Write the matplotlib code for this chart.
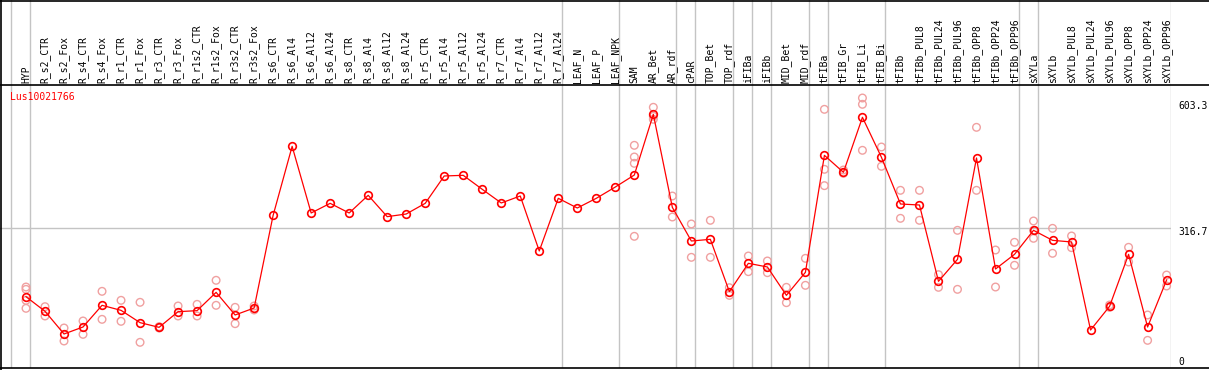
import matplotlib
matplotlib.use("Agg")
import matplotlib.pyplot as plt
from matplotlib.lines import Line2D

# ---------------- data ----------------
gene = "Lus10021766"

samples = [
    "HYP",
    "R_s2_CTR", "R_s2_Fox", "R_s4_CTR", "R_s4_Fox", "R_r1_CTR", "R_r1_Fox",
    "R_r3_CTR", "R_r3_Fox", "R_r1s2_CTR", "R_r1s2_Fox", "R_r3s2_CTR", "R_r3s2_Fox",
    "R_s6_CTR", "R_s6_Al4", "R_s6_Al12", "R_s6_Al24",
    "R_s8_CTR", "R_s8_Al4", "R_s8_Al12", "R_s8_Al24",
    "R_r5_CTR", "R_r5_Al4", "R_r5_Al12", "R_r5_Al24",
    "R_r7_CTR", "R_r7_Al4", "R_r7_Al12", "R_r7_Al24",
    "LEAF_N", "LEAF_P", "LEAF_NPK",
    "SAM", "AR_Bet", "AR_rdf",
    "cPAR",
    "TOP_Bet", "TOP_rdf",
    "iFIBa",
    "iFIBb",
    "MID_Bet", "MID_rdf",
    "tFIBa",
    "tFIB_Gr", "tFIB_Li", "tFIB_Bi",
    "tFIBb", "tFIBb_PUL8", "tFIBb_PUL24", "tFIBb_PUL96",
    "tFIBb_OPP8", "tFIBb_OPP24", "tFIBb_OPP96",
    "sXYLa",
    "sXYLb", "sXYLb_PUL8", "sXYLb_PUL24", "sXYLb_PUL96",
    "sXYLb_OPP8", "sXYLb_OPP24", "sXYLb_OPP96",
]

# number of samples in each group (separated by grey vertical lines)
group_sizes = [1, 28, 3, 3, 1, 2, 1, 1, 2, 1, 3, 7, 1, 7]

means = [
    161.7, 128.5, 77.1, 93.0, 142.1, 130.7, 102.8, 92.2, 127.7, 130.0,
    171.5, 120.2, 136.0, 346.1, 502.5, 351.4, 373.3, 351.4, 391.5, 343.1,
    349.1, 373.3, 435.3, 436.8, 405.1, 374.1, 389.9, 265.3, 384.7, 362.7,
    384.7, 410.3, 437.5, 575.1, 364.2, 287.9, 291.7, 173.1, 237.3, 229.0,
    164.7, 216.9, 482.1, 443.6, 568.3, 477.6, 371.8, 369.5, 196.5, 246.4,
    476.1, 224.4, 257.7, 312.1, 289.4, 285.7, 86.1, 139.8, 257.7, 92.9,
    199.5,
]

replicates = [
    [183.6, 178.3, 153.4, 135.3],
    [139.0, 117.9], [90.7, 61.2], [106.6, 76.3], [173.8, 110.3],
    [153.4, 105.8], [148.9, 58.2], [93.7, 90.7], [140.6, 117.9],
    [144.3, 117.9], [198.8, 142.1], [137.5, 100.5], [140.6, 131.5],
    [], [], [], [], [], [], [], [], [], [], [], [], [], [], [], [],
    [], [], [],
    [504.8, 478.4, 464.0, 298.5],
    [591.0, 570.6, 563.8],
    [389.9, 342.3],
    [326.5, 250.9],
    [334.8, 250.9], [182.1, 164.7],
    [253.9, 218.4],
    [242.6, 216.1],
    [182.9, 148.1], [248.6, 187.4],
    [586.4, 450.4, 413.4],
    [448.9, 441.3], [612.1, 597.8, 493.5], [501.0, 457.2],
    [402.8, 339.3], [402.8, 334.8], [211.6, 182.9], [312.1, 178.3],
    [545.6, 402.8], [267.5, 183.6], [284.9, 232.8],
    [333.3, 312.1, 294.0],
    [316.6, 260.0], [299.3, 272.8], [], [142.8, 137.5],
    [273.6, 240.3], [120.2, 62.7], [210.8, 185.9],
]

y_ticks = [0, 316.7, 603.3]
y_tick_labels = ["0", "316.7", "603.3"]

# ---------------- layout ----------------
W, H = 1209, 370
DPI = 100
fig = plt.figure(figsize=(W / DPI, H / DPI), dpi=DPI)

plot_top, plot_bot, plot_right = 85, 368, 1171
x0, dx = 26.0, 19.01           # pixel of first column, column spacing
units_per_px = 2.267

xlim = (-x0 / dx, (plot_right - x0) / dx)
ylim = (0, (plot_bot - plot_top) * units_per_px)

ax = fig.add_axes([0, (H - plot_bot) / H, plot_right / W, (plot_bot - plot_top) / H])
ax.set_xlim(*xlim)
ax.set_ylim(*ylim)
ax.axis("off")

hax = fig.add_axes([0, (H - plot_top) / H, plot_right / W, plot_top / H])
hax.set_xlim(*xlim)
hax.set_ylim(0, 1)
hax.axis("off")

grey = "#c4c4c4"
mono = "DejaVu Sans Mono"

# group separator lines
bounds = [-1]
acc = -1
for g in group_sizes:
    acc += g
    bounds.append(acc)
for b in bounds:
    for a in (ax, hax):
        a.axvline(b + 0.21, color=grey, lw=1.0, zorder=0)

# horizontal middle grid line
ax.axhline(y_ticks[1], color=grey, lw=1.0, zorder=0)

# sample labels (rotated)
for i, s in enumerate(samples):
    hax.text(i, 0.02, s, rotation=90, ha="center", va="bottom",
             fontsize=7, family=mono, color="black")

# replicate points
rx, ry = [], []
for i, reps in enumerate(replicates):
    for v in reps:
        rx.append(i)
        ry.append(v)
ax.scatter(rx, ry, s=30, facecolors="none", edgecolors="#f0a0a0",
           linewidths=1.0, zorder=2, clip_on=False)

# mean line
xs = list(range(len(samples)))
ax.plot(xs, means, color="red", lw=0.9, marker="o", ms=5.5, mfc="none",
        mec="red", mew=1.2, zorder=3, clip_on=False)

# gene name
fig.text(10 / W, 1 - 97.5 / H, gene, color="red", fontsize=7, family=mono,
         ha="left", va="center")

# right-hand value labels
offsets = {0: 6.3, 1: -4.0, 2: -4.5}
for k, (v, lab) in enumerate(zip(y_ticks, y_tick_labels)):
    ax.annotate(lab, xy=(1, v), xycoords=("axes fraction", "data"),
                xytext=(5.5, offsets[k] * 0.72), textcoords="offset points",
                ha="left", va="center", fontsize=7, family=mono,
                annotation_clip=False)

# black frame lines
def hline(py, x_from=0, x_to=W):
    fig.add_artist(Line2D([x_from / W, x_to / W], [1 - py / H, 1 - py / H],
                          color="black", lw=1.2, transform=fig.transFigure))

def vline(px, y_from=0, y_to=H):
    fig.add_artist(Line2D([px / W, px / W], [1 - y_from / H, 1 - y_to / H],
                          color="black", lw=1.2, transform=fig.transFigure))

hline(0.5)
hline(plot_top)
hline(plot_bot)
vline(1)

fig.savefig("out.png", dpi=DPI, facecolor="white")
